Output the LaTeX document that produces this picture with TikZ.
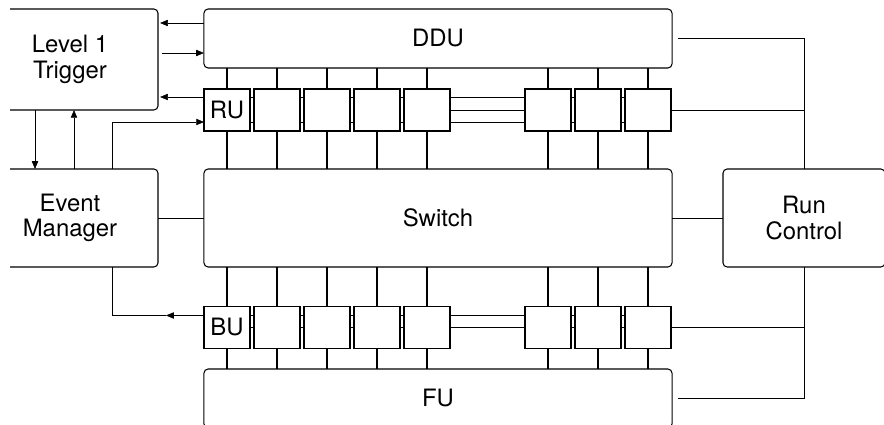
\documentclass[tikz,border=0pt]{standalone}
\usepackage{fontspec}
\setmainfont{TeX Gyre Heros}
\usetikzlibrary{arrows.meta,calc,backgrounds}

\begin{document}
\begin{tikzpicture}[x=0.025cm, y=-0.025cm, line width=0.75pt,
  >={Triangle[length=5.5pt,width=4.5pt]},
  every node/.style={font=\fontsize{17}{18}\selectfont, align=center},
  block/.style={draw, rounded corners=3pt, inner sep=0pt, outer sep=0pt},
  unit/.style={draw, fill=white, inner sep=0pt, outer sep=0pt,
    minimum width=1.15cm, minimum height=1.05cm}]

  \useasboundingbox (0,0) rectangle (884,425);
  \clip (10,0) rectangle (884,425);

  % ==========================================
  % GRANDS BLOCS
  % ==========================================
  \node[block, minimum width=4.4cm, minimum height=2.525cm] (l1) at (70,59.5) {Level 1\\Trigger};
  \node[block, minimum width=4.4cm, minimum height=2.45cm] (em) at (70,218) {Event\\Manager};
  \node[block, minimum width=11.7cm, minimum height=1.475cm] (ddu) at (438,38.5) {DDU};
  \node[block, minimum width=11.7cm, minimum height=2.45cm] (sw) at (438,218) {Switch};
  \node[block, minimum width=11.7cm, minimum height=1.475cm] (fu) at (438,398.5) {FU};
  \node[block, minimum width=4.05cm, minimum height=2.45cm] (rc) at (804,218) {Run\\Control};

  % ==========================================
  % RU / BU (deux rangées)
  % ==========================================
  \foreach \x/\rt/\bt [count=\i] in {227/RU/BU, 277//, 327//, 377//, 427//, 548//, 598//, 648//} {
    \node[unit] (r\i) at (\x,110) {\rt};
    \node[unit] (b\i) at (\x,327.5) {\bt};
    \draw (r\i.north) -- (r\i.north |- ddu.south);
    \draw (r\i.south) -- (r\i.south |- sw.north);
    \draw (b\i.north) -- (b\i.north |- sw.south);
    \draw (b\i.south) -- (b\i.south |- fu.north);
  }

  % Bus horizontaux derrière les unités
  \begin{pgfonlayer}{background}
    \draw ($(r1.north west)+(0,8)$) -- ($(r8.north east)+(0,8)$);
    \draw ($(r1.south west)+(0,-9)$) -- ($(r8.south east)+(0,-9)$);
    \draw (r5.east) -- (r6.west);
    \draw ($(b1.north west)+(0,9)$) -- ($(b8.north east)+(0,9)$);
    \draw (b1.center) -- (b8.center);
  \end{pgfonlayer}

  % ==========================================
  % LIAISONS TRIGGER / EVENT MANAGER
  % ==========================================
  \coordinate (t1) at ($(ddu.west)+(0,-15.5)$);
  \coordinate (t2) at ($(ddu.west)+(0,14.5)$);
  \coordinate (t3) at ($(r1.north west)+(0,8)$);
  \coordinate (t4) at ($(r1.south west)+(0,-9)$);
  \coordinate (t5) at ($(b1.north west)+(0,9)$);

  \draw[->, shorten >=1.5pt] (t1) -- (t1 -| l1.east);
  \draw[->] ($(t2 -| l1.east)+(4,0)$) -- (t2);
  \draw[->, shorten >=1.5pt] (t3) -- (t3 -| l1.east);
  \draw[->] ($(em.north east)+(-46,0)$) |- (t4);

  \draw[->] ($(l1.south)+(-35,0)$) -- ($(em.north)+(-35,0)$);
  \draw[->] ($(em.north)+(4,0)$) -- ($(l1.south)+(4,0)$);

  % Retour BU -> Event Manager
  \draw[->] (t5) -- ($(t5 -| em.east)+(8,0)$);
  \draw ($(t5 -| em.east)+(8,0)$) -| ($(em.south east)+(-46,0)$);

  \draw (em.east) -- (sw.west);
  \draw (sw.east) -- (rc.west);

  % ==========================================
  % RUN CONTROL
  % ==========================================
  \draw ($(ddu.east)+(6,0)$) -| (rc.north);
  \draw (r8.east) -- (r8.east -| rc.north);
  \draw (b8.east) -- (b8.east -| rc.south);
  \draw ($(fu.east)+(6,0)$) -| (rc.south);

\end{tikzpicture}
\end{document}
